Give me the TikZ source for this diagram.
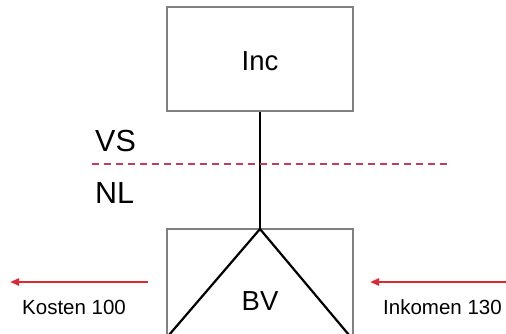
\documentclass[tikz,border=0pt]{standalone}
\usepackage{fontspec}
\setmainfont{Liberation Sans}
\usetikzlibrary{arrows.meta}
\definecolor{boxgrey}{RGB}{128,128,128}
\definecolor{arrred}{RGB}{222,40,52}
\definecolor{dashred}{RGB}{200,60,90}
\begin{document}
\begin{tikzpicture}[x=1pt,y=-1pt,
  box/.style={draw=boxgrey,line width=2.6pt,minimum width=186pt,minimum height=104pt,inner sep=0pt},
  big/.style={font=\fontsize{27.5}{30}\selectfont,inner sep=0pt},
  side/.style={font=\fontsize{30.5}{34}\selectfont,inner sep=0pt},
  lbl/.style={font=\fontsize{20.5}{24}\selectfont,inner sep=0pt},
  conn/.style={draw=black,line width=2.2pt},
  redarr/.style={draw=arrred,line width=2.2pt,-{Triangle[length=9pt,width=7pt]}}]
\useasboundingbox (0,0) rectangle (506,334);
\node[box] (inc) at (260,59) {};
\node[big] (inctxt) at (260,61) {Inc};
\node[box,minimum height=120pt] (bv) at (260,289) {};
\begin{scope}
\clip (0,0) rectangle (506,334);
\coordinate (apex) at (260,229);
\coordinate (bl) at (169,335);
\coordinate (br) at (349,335);
\draw[conn] (bl) -- (apex) -- (br);
\end{scope}
\node[big] (bvtxt) at (260,301) {BV};
\draw[conn] (inc.south) -- (apex);
\coordinate (dl) at (92,164);
\coordinate (dr) at (448,164);
\draw[draw=dashred,line width=1.6pt,dash pattern=on 7pt off 5pt] (dl) -- (dr);
\node[side,anchor=west] (vs) at (95,141) {VS};
\node[side,anchor=west] (nl) at (95,193) {NL};
\coordinate (l1) at (148,282);
\coordinate (l2) at (10,282);
\draw[redarr] (l1) -- (l2);
\coordinate (r1) at (507,282);
\coordinate (r2) at (370,282);
\draw[redarr] (r1) -- (r2);
\node[lbl,anchor=west] (kosten) at (22,307) {Kosten 100};
\node[lbl,anchor=west] (inkomen) at (383,307) {Inkomen 130};
\end{tikzpicture}
\end{document}
